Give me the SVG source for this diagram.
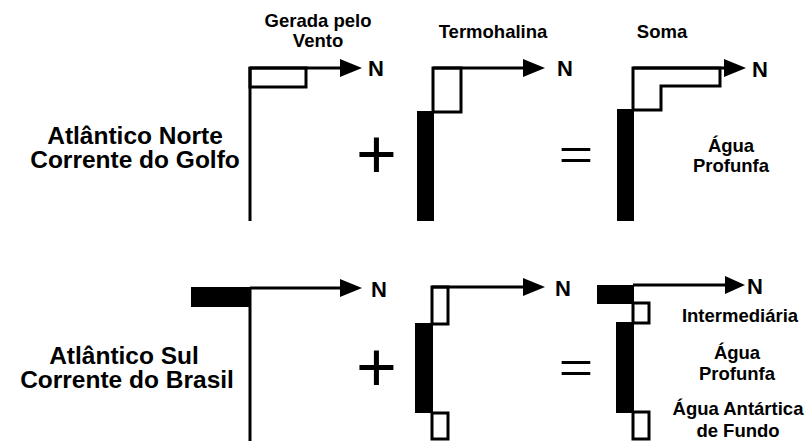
<svg xmlns="http://www.w3.org/2000/svg" width="812" height="441" viewBox="0 0 812 441">
  <defs>
    <style>
      .lbl { font-family: "Liberation Sans", Arial, sans-serif; font-weight: bold; fill: #000; text-anchor: middle; }
      .head { font-size: 18.5px; }
      .side { font-size: 24.5px; }
      .north { font-family: "Liberation Sans", Arial, sans-serif; font-weight: bold; font-size: 22px; fill: #000; }
      .op { font-family: "Liberation Sans", Arial, sans-serif; fill: #000; text-anchor: middle; }
      .axis { stroke: #000; stroke-width: 3; fill: none; }
      .open { stroke: #000; stroke-width: 3; fill: #fff; }
      .solid { fill: #000; stroke: none; }
    </style>
  </defs>
  <rect width="812" height="441" fill="#fff"/>

  <!-- column headings -->
  <g id="headings">
    <text class="lbl head" x="318" y="27">Gerada pelo</text>
    <text class="lbl head" x="318" y="47">Vento</text>
    <text class="lbl head" x="493" y="38">Termohalina</text>
    <text class="lbl head" x="662" y="38">Soma</text>
  </g>

  <!-- row labels -->
  <g id="row-north-label">
    <text class="lbl side" x="135" y="144">Atlântico Norte</text>
    <text class="lbl side" x="135" y="168">Corrente do Golfo</text>
  </g>
  <g id="row-south-label">
    <text class="lbl side" x="124" y="364">Atlântico Sul</text>
    <text class="lbl side" x="127" y="388">Corrente do Brasil</text>
  </g>

  <!-- North Atlantic: wind-driven profile -->
  <g id="north-wind">
    <rect class="open" x="250" y="68" width="56" height="19"/>
    <line class="axis" x1="250" y1="67" x2="250" y2="221"/>
  </g>
  <!-- North Atlantic: thermohaline profile -->
  <g id="north-thermo">
    <rect class="open" x="433" y="68" width="28" height="44"/>
    <rect class="solid" x="417" y="111" width="17" height="110"/>
  </g>
  <!-- North Atlantic: sum -->
  <g id="north-sum">
    <path class="open" d="M633 110 L633 68 L720 68 L720 86 L661 86 L661 110 Z"/>
    <rect class="solid" x="617" y="109" width="17" height="112"/>
    <text class="lbl head" x="731" y="152">Água</text>
    <text class="lbl head" x="731" y="172">Profunfa</text>
  </g>

  <!-- South Atlantic: wind-driven profile -->
  <g id="south-wind">
    <rect class="solid" x="191" y="287" width="60" height="20"/>
    <line class="axis" x1="250" y1="287" x2="250" y2="441"/>
  </g>
  <!-- South Atlantic: thermohaline profile -->
  <g id="south-thermo">
    <rect class="open" x="432" y="287" width="16" height="37"/>
    <rect class="solid" x="415" y="323" width="18" height="90"/>
    <rect class="open" x="432" y="413" width="16" height="26"/>
  </g>
  <!-- South Atlantic: sum -->
  <g id="south-sum">
    <rect class="open" x="633" y="303" width="16" height="20"/>
    <rect class="open" x="633" y="412" width="16" height="27"/>
    <rect class="solid" x="597" y="285" width="37" height="19"/>
    <rect class="solid" x="616" y="322" width="18" height="91"/>
    <text class="lbl head" x="740" y="322">Intermediária</text>
    <text class="lbl head" x="737" y="359">Água</text>
    <text class="lbl head" x="737" y="380">Profunfa</text>
    <text class="lbl head" x="738" y="415">Água Antártica</text>
    <text class="lbl head" x="738" y="437">de Fundo</text>
  </g>

  <!-- operators -->
  <g id="operators">
    <text class="op" x="376.5" y="178" font-size="70">+</text>
    <text class="op" transform="translate(576,169) scale(1,0.72)" x="0" y="0" font-size="59">=</text>
    <text class="op" x="376.5" y="391" font-size="70">+</text>
    <text class="op" transform="translate(576,382) scale(1,0.72)" x="0" y="0" font-size="59">=</text>
  </g>

  <!-- northward axes -->
  <g id="connectors">
    <line class="axis" x1="250" y1="68" x2="342" y2="68"/>
    <polygon class="solid" points="340,59 362,68 340,77"/>
    <line class="axis" x1="433" y1="68" x2="525" y2="68"/>
    <polygon class="solid" points="523,59 545,68 523,77"/>
    <line class="axis" x1="633" y1="68" x2="726" y2="68"/>
    <polygon class="solid" points="724,59 746,68 724,77"/>
    <line class="axis" x1="250" y1="288" x2="342" y2="288"/>
    <polygon class="solid" points="340,279 362,288 340,297"/>
    <line class="axis" x1="432" y1="287" x2="525" y2="287"/>
    <polygon class="solid" points="523,278 545,287 523,296"/>
    <line class="axis" x1="633" y1="285" x2="727" y2="285"/>
    <polygon class="solid" points="725,276 745,285 725,294"/>
  </g>

  <!-- north markers -->
  <g id="north-markers">
    <text class="north" x="368" y="76">N</text>
    <text class="north" x="557" y="76">N</text>
    <text class="north" x="752" y="77">N</text>
    <text class="north" x="371" y="297">N</text>
    <text class="north" x="555" y="296">N</text>
    <text class="north" x="747" y="294">N</text>
  </g>
</svg>
